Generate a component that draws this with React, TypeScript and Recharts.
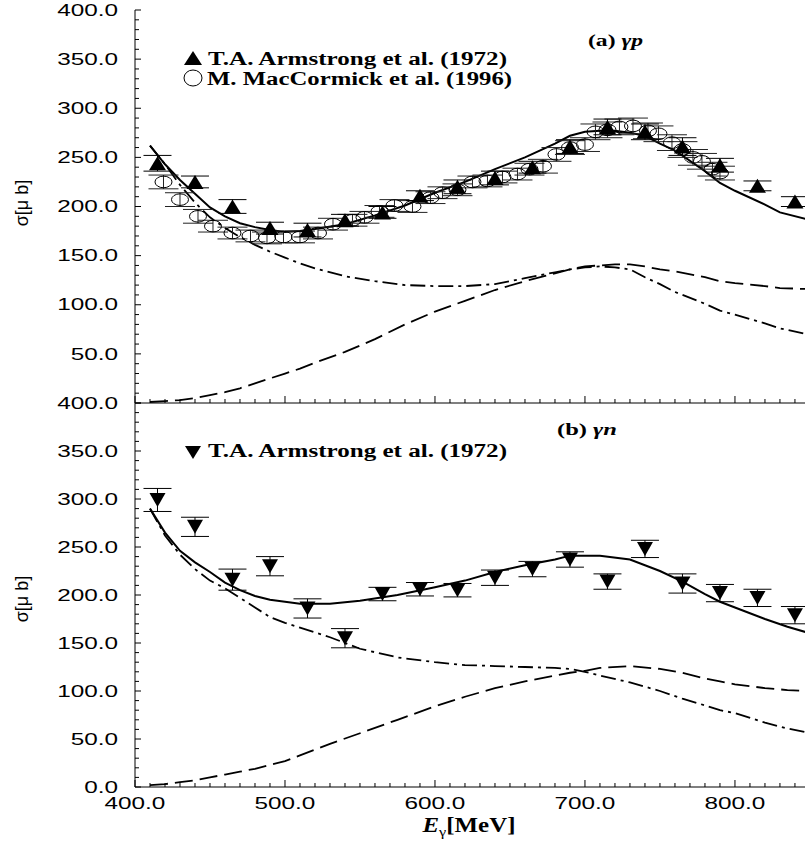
import React from 'react';
import { ComposedChart, Line, Scatter, XAxis, YAxis, ErrorBar } from 'recharts';

// ---------- panel (a) gamma p : model curves ----------
const curveEnergyP = [410, 420, 430, 440, 450, 460, 470, 480, 490, 500, 510, 520, 540, 560, 580, 600, 620, 640, 660, 680, 690, 700, 710, 720, 730, 740, 750, 760, 780, 790, 800, 820, 830, 848];
const totalP = [262, 243, 227, 213, 199, 190, 183, 179, 176, 174, 175, 177, 182, 191, 201, 214, 225, 238, 250, 264, 272, 276, 277, 277, 275, 272, 264, 257, 236, 224, 216, 202, 194, 187];
const backgroundP = [262, 243, 222, 204, 189, 178, 169, 161, 154, 148, 142, 137, 129, 124, 120, 119, 119, 121, 127, 133, 136, 138, 139, 138, 136, 128, 121, 113, 101, 94, 90, 81, 76, 70];
const resonanceP = [1, 2, 3, 5, 8, 11, 15, 20, 25, 30, 35, 41, 52, 65, 80, 93, 104, 115, 124, 132, 136, 139, 140, 141, 141, 139, 136, 134, 128, 124, 122, 119, 117, 116];

// ---------- panel (a) data ----------
const armstrongPEnergy = [415, 440, 465, 490, 515, 540, 565, 590, 615, 640, 665, 690, 715, 740, 765, 790, 815, 840];
const armstrongPValue = [244, 225, 200, 178, 176, 186, 194, 211, 220, 229, 240, 261, 281, 276, 261, 242, 221, 205];
const armstrongPError = [8, 6, 7, 6, 7, 6, 6, 5, 7, 7, 6, 7, 8, 8, 9, 7, 5, 5];

const macCormickEnergy = [419, 430, 442, 452, 465, 477, 488, 499, 510, 522, 532, 545, 553, 563, 573, 585, 597, 605, 615, 625, 635, 645, 655, 663, 672, 681, 690, 700, 707, 715, 723, 732, 742, 749, 758, 765, 772, 778, 785, 790];
const macCormickValue = [225, 207, 190, 180, 173, 170, 168, 169, 169, 173, 182, 186, 189, 195, 201, 200, 209, 214, 217, 225, 226, 230, 233, 238, 241, 253, 260, 263, 276, 278, 281, 282, 277, 274, 265, 258, 250, 246, 238, 234];
const macCormickError = [7, 7, 7, 6, 6, 6, 6, 6, 6, 6, 6, 6, 6, 6, 6, 6, 6, 6, 6, 6, 6, 6, 6, 6, 7, 7, 7, 7, 8, 8, 8, 8, 8, 8, 8, 8, 8, 8, 7, 7];

// ---------- panel (b) gamma n : model curves ----------
const curveEnergyN = [410, 420, 430, 440, 450, 460, 470, 480, 490, 500, 510, 530, 550, 575, 600, 620, 640, 660, 680, 690, 700, 710, 730, 750, 765, 780, 790, 800, 820, 835, 848];
const totalN = [290, 265, 246, 234, 224, 213, 205, 199, 195, 193, 191, 191, 194, 200, 208, 215, 224, 231, 237, 241, 241, 241, 237, 225, 214, 201, 193, 187, 175, 167, 161];
const backgroundN = [290, 262, 242, 227, 215, 207, 197, 187, 177, 171, 166, 156, 144, 135, 130, 127, 126, 125, 124, 123, 120, 116, 109, 100, 92, 85, 80, 77, 67, 61, 57];
const resonanceN = [2, 3, 5, 7, 10, 13, 16, 19, 23, 27, 33, 45, 56, 70, 84, 94, 103, 110, 116, 119, 121, 124, 126, 123, 119, 113, 110, 107, 103, 101, 100];

// ---------- panel (b) data ----------
const armstrongNEnergy = [415, 440, 465, 490, 515, 540, 565, 590, 615, 640, 665, 690, 715, 740, 765, 790, 815, 840];
const armstrongNValue = [299, 271, 216, 230, 186, 155, 201, 206, 205, 218, 227, 237, 214, 248, 212, 202, 197, 179];
const armstrongNError = [12, 10, 11, 10, 10, 10, 7, 7, 7, 8, 8, 8, 8, 9, 10, 9, 9, 9];

// ---------- ticks ----------
const xMajorTicks = [400, 500, 600, 700, 800];
const yMajorTicks = [0, 50, 100, 150, 200, 250, 300, 350, 400];
const xAllTicks = Array.from({ length: 45 }, (_, i) => 400 + i * 10);
const yAllTicks = Array.from({ length: 41 }, (_, i) => i * 10);
const X_MAX = 848.7;

const rows = (e: number[], v: number[], err?: number[]) =>
  e.map((x, i) => ({ e: x, v: v[i], err: err ? err[i] : 0 }));

const totalPRows = rows(curveEnergyP, totalP);
const backgroundPRows = rows(curveEnergyP, backgroundP);
const resonancePRows = rows(curveEnergyP, resonanceP);
const armstrongPRows = rows(armstrongPEnergy, armstrongPValue, armstrongPError);
const macCormickRows = rows(macCormickEnergy, macCormickValue, macCormickError);
const totalNRows = rows(curveEnergyN, totalN);
const backgroundNRows = rows(curveEnergyN, backgroundN);
const resonanceNRows = rows(curveEnergyN, resonanceN);
const armstrongNRows = rows(armstrongNEnergy, armstrongNValue, armstrongNError);

const SANS = 'Liberation Sans, Arial, sans-serif';
const SERIF = 'Liberation Serif, Times New Roman, serif';
const DASH = '18 7';
const DASH_DOT = '15 5 3 5';

const fmt = (v: number) => v.toFixed(1);
const labelLen = (s: string) => {
  let w = 0;
  for (const c of s) w += c === '.' ? 6.8 : 13.5;
  return w;
};

const makeXTick = (dir: number, withLabels: boolean) => (p: any) => {
  const { x, y, payload } = p;
  const v = payload.value;
  const major = xMajorTicks.includes(v);
  const len = major ? 7 : 4;
  const s = fmt(v);
  return (
    <g>
      <line x1={x} x2={x} y1={y} y2={y + dir * len} stroke="#000" strokeWidth={1} />
      {withLabels && major && (
        <text x={x} y={y + 22} textAnchor="middle" fontFamily={SANS} fontSize={16} fill="#000"
          textLength={labelLen(s)} lengthAdjust="spacingAndGlyphs">{s}</text>
      )}
    </g>
  );
};

const makeYTick = (dir: number, withLabels: boolean, skipZero: boolean) => (p: any) => {
  const { x, y, payload } = p;
  const v = payload.value;
  const major = yMajorTicks.includes(v);
  const len = major ? 6 : 4;
  const s = fmt(v);
  return (
    <g>
      <line x1={x} x2={x + dir * len} y1={y} y2={y} stroke="#000" strokeWidth={1} />
      {withLabels && major && !(skipZero && v === 0) && (
        <text x={x - 17} y={y + 5.7} textAnchor="end" fontFamily={SANS} fontSize={16} fill="#000"
          textLength={labelLen(s)} lengthAdjust="spacingAndGlyphs">{s}</text>
      )}
    </g>
  );
};

const TriangleUp = (p: any) => {
  const { cx, cy } = p;
  if (cx == null || cy == null) return <g />;
  return <polygon points={`${cx - 8.5},${cy + 7} ${cx + 8.5},${cy + 7} ${cx},${cy - 7}`} fill="#000" />;
};
const TriangleDown = (p: any) => {
  const { cx, cy } = p;
  if (cx == null || cy == null) return <g />;
  return <polygon points={`${cx - 8},${cy - 7} ${cx + 8},${cy - 7} ${cx},${cy + 7}`} fill="#000" />;
};
const OpenEllipse = (p: any) => {
  const { cx, cy } = p;
  if (cx == null || cy == null) return <g />;
  return <ellipse cx={cx} cy={cy} rx={8.5} ry={5.8} fill="none" stroke="#000" strokeWidth={1} />;
};

const axisCommon = { tickSize: 0, tickMargin: 0, tickLine: false, interval: 0 as const, allowDataOverflow: true };

function PanelA() {
  return (
    <ComposedChart width={808} height={420} margin={{ top: 10, right: 0, bottom: 0, left: 0 }}>
      <XAxis xAxisId="b" type="number" dataKey="e" domain={[400, X_MAX]} ticks={xAllTicks} orientation="bottom" height={17}
        axisLine={{ stroke: '#000' }} tick={makeXTick(-1, false)} {...axisCommon} />
      <XAxis xAxisId="t" type="number" dataKey="e" domain={[400, X_MAX]} ticks={xAllTicks} orientation="top" height={0}
        axisLine={{ stroke: '#000' }} tick={makeXTick(1, false)} {...axisCommon} />
      <YAxis yAxisId="l" type="number" domain={[0, 400]} ticks={yAllTicks} orientation="left" width={135}
        axisLine={{ stroke: '#000' }} tick={makeYTick(1, true, true)} {...axisCommon} />
      <YAxis yAxisId="r" type="number" domain={[0, 400]} ticks={yAllTicks} orientation="right" width={0}
        axisLine={{ stroke: '#000' }} tick={makeYTick(-1, false, false)} {...axisCommon} />
      <Line xAxisId="b" yAxisId="l" data={resonancePRows} dataKey="v" type="linear" stroke="#000" strokeWidth={1.8}
        strokeDasharray={DASH} dot={false} isAnimationActive={false} />
      <Line xAxisId="b" yAxisId="l" data={backgroundPRows} dataKey="v" type="linear" stroke="#000" strokeWidth={1.8}
        strokeDasharray={DASH_DOT} dot={false} isAnimationActive={false} />
      <Line xAxisId="b" yAxisId="l" data={totalPRows} dataKey="v" type="linear" stroke="#000" strokeWidth={2}
        dot={false} isAnimationActive={false} />
      <Scatter xAxisId="b" yAxisId="l" data={macCormickRows} dataKey="v" shape={OpenEllipse} isAnimationActive={false}>
        <ErrorBar dataKey="err" direction="y" width={15} stroke="#222" strokeWidth={1} isAnimationActive={false} />
      </Scatter>
      <Scatter xAxisId="b" yAxisId="l" data={armstrongPRows} dataKey="v" shape={TriangleUp} isAnimationActive={false}>
        <ErrorBar dataKey="err" direction="y" width={14} stroke="#000" strokeWidth={1} isAnimationActive={false} />
      </Scatter>
    </ComposedChart>
  );
}

function PanelB() {
  return (
    <ComposedChart width={808} height={448} margin={{ top: 10, right: 0, bottom: 0, left: 0 }}>
      <XAxis xAxisId="b" type="number" dataKey="e" domain={[400, X_MAX]} ticks={xAllTicks} orientation="bottom" height={54}
        axisLine={{ stroke: '#000' }} tick={makeXTick(-1, true)} {...axisCommon} />
      <XAxis xAxisId="t" type="number" dataKey="e" domain={[400, X_MAX]} ticks={xAllTicks} orientation="top" height={0}
        axisLine={{ stroke: '#000' }} tick={makeXTick(1, false)} {...axisCommon} />
      <YAxis yAxisId="l" type="number" domain={[0, 400]} ticks={yAllTicks} orientation="left" width={135}
        axisLine={{ stroke: '#000' }} tick={makeYTick(1, true, false)} {...axisCommon} />
      <YAxis yAxisId="r" type="number" domain={[0, 400]} ticks={yAllTicks} orientation="right" width={0}
        axisLine={{ stroke: '#000' }} tick={makeYTick(-1, false, false)} {...axisCommon} />
      <Line xAxisId="b" yAxisId="l" data={resonanceNRows} dataKey="v" type="linear" stroke="#000" strokeWidth={1.8}
        strokeDasharray={DASH} dot={false} isAnimationActive={false} />
      <Line xAxisId="b" yAxisId="l" data={backgroundNRows} dataKey="v" type="linear" stroke="#000" strokeWidth={1.8}
        strokeDasharray={DASH_DOT} dot={false} isAnimationActive={false} />
      <Line xAxisId="b" yAxisId="l" data={totalNRows} dataKey="v" type="linear" stroke="#000" strokeWidth={2}
        dot={false} isAnimationActive={false} />
      <Scatter xAxisId="b" yAxisId="l" data={armstrongNRows} dataKey="v" shape={TriangleDown} isAnimationActive={false}>
        <ErrorBar dataKey="err" direction="y" width={14} stroke="#000" strokeWidth={1} isAnimationActive={false} />
      </Scatter>
    </ComposedChart>
  );
}

function Overlay() {
  return (
    <svg width={805} height={841} style={{ position: 'absolute', left: 0, top: 0, pointerEvents: 'none' }}>
      {/* y axis titles */}
      <text transform="translate(28,203) rotate(-90)" textAnchor="middle" fontFamily={SANS} fontSize={18} fill="#000">σ[μ b]</text>
      <text transform="translate(28,599) rotate(-90)" textAnchor="middle" fontFamily={SANS} fontSize={18} fill="#000">σ[μ b]</text>
      {/* x axis title */}
      <text x={469} y={832} textAnchor="middle" fontFamily={SERIF} fontWeight="bold" fontSize={20} fill="#000"
        textLength={93} lengthAdjust="spacingAndGlyphs">
        <tspan fontStyle="italic">E</tspan><tspan fontSize={13} dy={4} fontWeight="normal">γ</tspan><tspan dy={-4}>[MeV]</tspan>
      </text>
      {/* panel a legend */}
      <polygon points="184,65 202,65 193,51" fill="#000" />
      <text x={208} y={65} fontFamily={SERIF} fontWeight="bold" fontSize={18.5} fill="#000" textLength={299} lengthAdjust="spacingAndGlyphs">T.A. Armstrong et al. (1972)</text>
      <ellipse cx={193} cy={78} rx={9} ry={8} fill="none" stroke="#000" strokeWidth={1} />
      <text x={207} y={85} fontFamily={SERIF} fontWeight="bold" fontSize={18.5} fill="#000" textLength={305} lengthAdjust="spacingAndGlyphs">M. MacCormick et al. (1996)</text>
      <text x={588} y={46} fontFamily={SERIF} fontWeight="bold" fontSize={17} fill="#000" textLength={55} lengthAdjust="spacingAndGlyphs">(a) <tspan fontStyle="italic">γp</tspan></text>
      {/* panel b legend */}
      <polygon points="185,446 201,446 193,459" fill="#000" />
      <text x={208} y={457} fontFamily={SERIF} fontWeight="bold" fontSize={18.5} fill="#000" textLength={299} lengthAdjust="spacingAndGlyphs">T.A. Armstrong et al. (1972)</text>
      <text x={557} y={435} fontFamily={SERIF} fontWeight="bold" fontSize={17} fill="#000" textLength={60} lengthAdjust="spacingAndGlyphs">(b) <tspan fontStyle="italic">γn</tspan></text>
    </svg>
  );
}

export default function App() {
  return (
    <div style={{ position: 'absolute', left: 0, top: 0, width: 805, height: 841, overflow: 'hidden', background: '#fff' }}>
      <div style={{ position: 'absolute', left: 0, top: 0 }}>
        <PanelA />
      </div>
      <div style={{ position: 'absolute', left: 0, top: 393 }}>
        <PanelB />
      </div>
      <Overlay />
    </div>
  );
}
